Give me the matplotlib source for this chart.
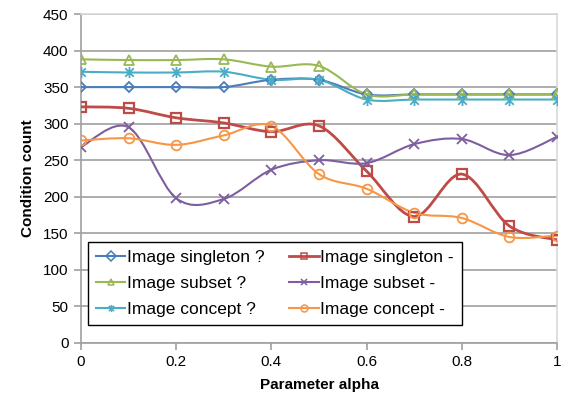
import numpy as np
import matplotlib.pyplot as plt
from matplotlib.path import Path
from matplotlib.patches import PathPatch
from matplotlib.lines import Line2D

plt.rcParams['font.family'] = ['Liberation Sans', 'DejaVu Sans']

# -------- DATA --------
alpha = [0, 0.1, 0.2, 0.3, 0.4, 0.5, 0.6, 0.7, 0.8, 0.9, 1.0]

singleton_q = [350, 350, 350, 350, 360, 360, 340, 340, 340, 340, 340]
singleton_m = [323, 321, 308, 301, 289, 297, 235, 173, 231, 160, 141]
subset_q = [388, 387, 387, 388, 378, 379, 340, 340, 340, 340, 340]
subset_m = [268, 295, 198, 197, 237, 250, 246, 272, 279, 257, 282]
concept_q = [371, 370, 370, 371, 360, 360, 333, 333, 333, 333, 333]
concept_m = [277, 280, 271, 284, 297, 231, 211, 178, 171, 145, 147]

# asterisk marker (x with a vertical bar), as Excel draws it
star = Path([(-1, -1), (1, 1), (-1, 1), (1, -1), (0, -1.3), (0, 1.3)],
            [Path.MOVETO, Path.LINETO, Path.MOVETO, Path.LINETO,
             Path.MOVETO, Path.LINETO])

series = [
    ("Image singleton ?", singleton_q, "#4A7EBB", "D", 1.5),
    ("Image singleton -", singleton_m, "#BE4B48", "s", 2.0),
    ("Image subset ?", subset_q, "#98B954", "^", 1.5),
    ("Image subset -", subset_m, "#7D5FA0", "x", 1.5),
    ("Image concept ?", concept_q, "#4BACC6", star, 1.5),
    ("Image concept -", concept_m, "#F79646", "o", 1.5),
]


def smooth_path(x, y):
    # Excel-like smoothed line: cubic bezier segments (Catmull-Rom control points)
    x = np.asarray(x, float)
    y = np.asarray(y, float)
    n = len(x)
    verts = [(x[0], y[0])]
    codes = [Path.MOVETO]
    for i in range(n - 1):
        p0 = np.array([x[max(i - 1, 0)], y[max(i - 1, 0)]])
        p1 = np.array([x[i], y[i]])
        p2 = np.array([x[i + 1], y[i + 1]])
        p3 = np.array([x[min(i + 2, n - 1)], y[min(i + 2, n - 1)]])
        c1 = p1 + (p2 - p0) / 6.0
        c2 = p2 - (p3 - p1) / 6.0
        verts += [tuple(c1), tuple(c2), tuple(p2)]
        codes += [Path.CURVE4] * 3
    return Path(verts, codes)


fig = plt.figure(figsize=(5.69, 4.05), dpi=100)
ax = fig.add_axes([81 / 569, 1 - 343 / 405, 476 / 569, 329 / 405])

handles = []
for label, vals, color, marker, lw in series:
    patch = PathPatch(smooth_path(alpha, vals), fill=False, edgecolor=color,
                      linewidth=lw, zorder=3)
    ax.add_patch(patch)
    is_str = isinstance(marker, str)
    ms = 5.5 if is_str and marker == "D" else (7 if is_str else 8)
    mew = 1.6 if is_str and marker == "s" else 1.3
    ax.plot(alpha, vals, linestyle="none", marker=marker, markersize=ms,
            markerfacecolor="none", markeredgecolor=color, markeredgewidth=mew,
            zorder=4)
    handles.append(Line2D([], [], color=color, linewidth=lw, marker=marker,
                          markersize=5, markerfacecolor="none",
                          markeredgecolor=color, markeredgewidth=1.1,
                          label=label))

ax.set_xlim(0, 1)
ax.set_ylim(0, 450)
ax.set_xticks([0, 0.2, 0.4, 0.6, 0.8, 1.0])
ax.set_xticklabels(["0", "0.2", "0.4", "0.6", "0.8", "1"])
ax.set_yticks(range(0, 451, 50))
ax.yaxis.grid(True, color="#A0A0A0", linewidth=1.2)
ax.set_axisbelow(True)

for side in ["left", "bottom"]:
    ax.spines[side].set_color("#A0A0A0")
    ax.spines[side].set_linewidth(1.2)
for side in ["top", "right"]:
    ax.spines[side].set_color("#D9D9D9")
    ax.spines[side].set_linewidth(1.2)

ax.tick_params(axis="both", direction="out", length=5, color="#A0A0A0",
               width=1.2, labelsize=11, pad=4)

ax.set_xlabel("Parameter alpha", fontsize=11, fontweight="bold", labelpad=6)
ax.set_ylabel("Condition count", fontsize=11, fontweight="bold", labelpad=6)

# legend ordering: column-wise (left: ? series, right: - series)
order = [0, 2, 4, 1, 3, 5]
leg = ax.legend([handles[i] for i in order], [series[i][0] for i in order],
                ncol=2, loc="lower left", bbox_to_anchor=(0.015, 0.055),
                fontsize=12.5, frameon=True, fancybox=False, handlelength=1.7,
                handletextpad=0.1, columnspacing=1.4, labelspacing=0.62,
                borderpad=0.45, borderaxespad=0)
leg.get_frame().set_edgecolor("black")
leg.get_frame().set_linewidth(1.0)
leg.get_frame().set_alpha(1)

fig.savefig("out.png", dpi=100)
